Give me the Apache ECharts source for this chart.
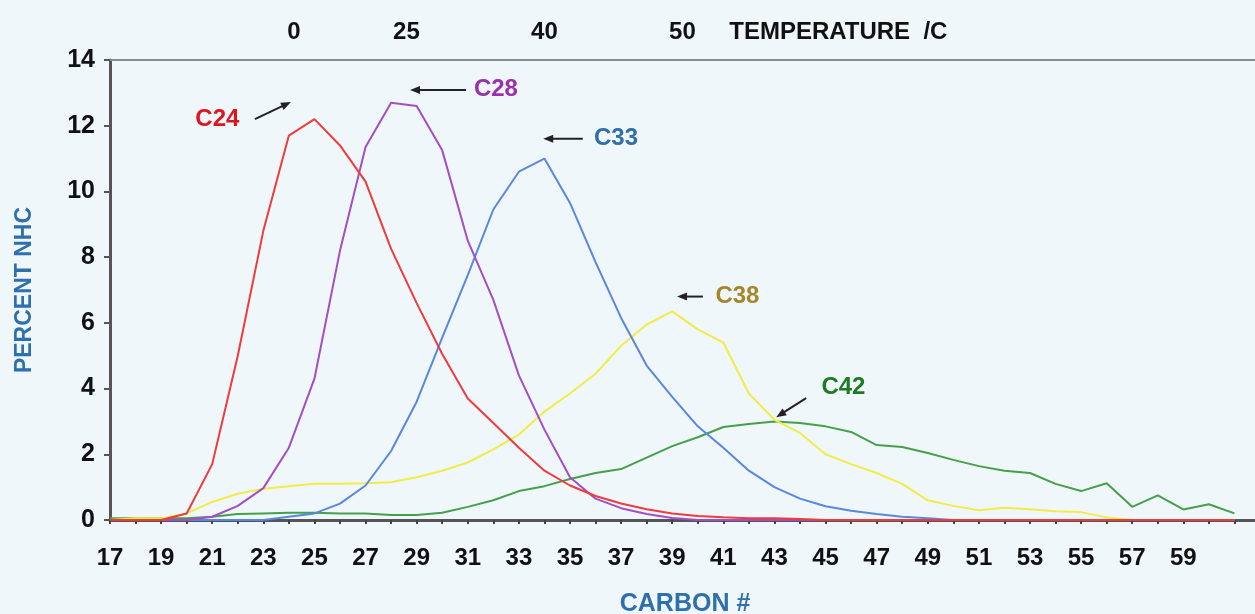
<!DOCTYPE html>
<html><head><meta charset="utf-8">
<script src="https://cdn.jsdelivr.net/npm/echarts@6/dist/echarts.min.js"></script>
<style>html,body{margin:0;padding:0;background:#f0f7fb}#c{width:1255px;height:614px}</style>
</head><body><div id="c"></div>
<script>
// ---- data ----
const carbon = ['17','18','19','20','21','22','23','24','25','26','27','28','29','30','31','32','33','34','35','36','37','38','39','40','41','42','43','44','45','46','47','48','49','50','51','52','53','54','55','56','57','58','59','60','61','62'];
const xTickLabels = ['17','19','21','23','25','27','29','31','33','35','37','39','41','43','45','47','49','51','53','55','57','59'];
const yTicks = [0, 2, 4, 6, 8, 10, 12, 14];
const tempLabels = ['0', '25', '40', '50', 'TEMPERATURE  /C'];
const tempCarbon = [24.2, 28.6, 34.0, 39.4, 45.5];

const c24 = [0,0,0,0.2,1.7,5.0,8.8,11.7,12.2,11.4,10.3,8.25,6.6,5.05,3.7,2.95,2.2,1.5,1.05,0.73,0.5,0.33,0.2,0.12,0.08,0.05,0.05,0.03,0,0,0,0,0,0,0,0,0,0,0,0,0,0,0,0,0,null];
const c28 = [0,0,0,0,0.1,0.43,0.97,2.2,4.3,8.2,11.35,12.7,12.6,11.25,8.5,6.7,4.4,2.75,1.3,0.65,0.36,0.18,0.06,0,0,0,0,0,0,0,0,0,0,0,0,0,0,0,0,0,0,0,0,0,0,null];
const c33 = [0,0,0,0,0,0,0,0.1,0.2,0.5,1.05,2.1,3.6,5.55,7.45,9.45,10.6,11.0,9.65,7.85,6.15,4.7,3.75,2.85,2.2,1.5,1.0,0.65,0.42,0.28,0.18,0.1,0.05,0,0,0,0,0,0,0,0,0,0,0,0,null];
const c38 = [0,0.05,0.05,0.2,0.55,0.8,0.95,1.03,1.1,1.1,1.12,1.15,1.3,1.5,1.75,2.15,2.6,3.3,3.85,4.45,5.3,5.95,6.35,5.8,5.4,3.85,3.05,2.65,2.0,1.7,1.43,1.1,0.6,0.43,0.3,0.37,0.33,0.27,0.24,0.08,0,0,0,0,0,null];
const c42 = [0.05,0.05,0.05,0.05,0.1,0.18,0.2,0.22,0.22,0.2,0.2,0.15,0.15,0.22,0.4,0.6,0.88,1.03,1.25,1.43,1.55,1.9,2.25,2.52,2.83,2.92,3.0,2.95,2.85,2.68,2.28,2.22,2.04,1.83,1.64,1.5,1.43,1.1,0.88,1.12,0.4,0.75,0.32,0.48,0.2,null];

const seriesNames = ['C24', 'C28', 'C33', 'C38', 'C42'];
const lineColors = ['#ef3b3b', '#a24ec6', '#5b86e0', '#f0ec48', '#45a04a'];
const labelColors = ['#e0141e', '#9b2fae', '#2f6ea8', '#a5872a', '#1f7a24'];
// annotation anchors in (carbon number, percent) space
const annText = [[21.2, 12.2], [32.1, 13.1], [36.8, 11.6], [41.55, 6.8], [45.7, 4.05]];
const annFrom = [[22.67, 12.2], [30.93, 13.09], [35.5, 11.6], [40.2, 6.8], [44.24, 3.71]];
const annTo = [[24.08, 12.72], [28.74, 13.09], [33.95, 11.6], [39.19, 6.8], [43.07, 3.13]];

const FONT = "'Liberation Sans', Arial, sans-serif";
const chart = echarts.init(document.getElementById('c'));
const values = [c24, c28, c33, c38, c42];

chart.setOption({
  backgroundColor: '#f0f7fb',
  animation: false,
  grid: { left: 110, right: -5, top: 60, bottom: 94, containLabel: false, outerBoundsMode: 'none' },
  xAxis: [{
    type: 'category', data: carbon, boundaryGap: false, position: 'bottom',
    name: 'CARBON #', nameLocation: 'middle', nameGap: 72,
    nameTextStyle: { color: '#2e6fad', fontWeight: 'bold', fontSize: 25, fontFamily: FONT },
    axisLine: { lineStyle: { color: '#555', width: 3 } },
    axisTick: { interval: 0, length: 4, lineStyle: { color: '#444', width: 2 } },
    axisLabel: {
      interval: (i, v) => xTickLabels.includes(v),
      margin: 26, color: '#111', fontWeight: 'bold', fontSize: 24, fontFamily: FONT
    },
    splitLine: { show: false }
  }, {
    type: 'value', position: 'top', min: 17, max: 62,
    axisLine: { show: true, onZero: false, lineStyle: { color: '#8c8c8c', width: 2 } },
    axisTick: { show: false },
    splitLine: { show: false },
    axisLabel: {
      customValues: tempCarbon,
      formatter: (v) => { const i = tempCarbon.indexOf(v); return i >= 0 ? tempLabels[i] : ''; },
      margin: 16, color: '#111', fontWeight: 'bold', fontSize: 24, fontFamily: FONT
    }
  }],
  yAxis: {
    type: 'value', min: 0, max: 14, interval: 2,
    name: 'PERCENT NHC', nameLocation: 'middle', nameGap: 74, nameRotate: 90,
    nameTextStyle: { color: '#2e6fad', fontWeight: 'bold', fontSize: 23, fontFamily: FONT },
    axisLine: { show: true, lineStyle: { color: '#555', width: 3 } },
    axisTick: { show: true, length: 6, lineStyle: { color: '#555', width: 2 } },
    axisLabel: { margin: 15, color: '#111', fontWeight: 'bold', fontSize: 25, fontFamily: FONT,
      formatter: (v) => yTicks.includes(v) ? String(v) : '' },
    splitLine: { show: false }
  },
  series: values.map((d, i) => ({
    name: seriesNames[i], type: 'line', data: d, xAxisIndex: 0, yAxisIndex: 0,
    symbol: 'none', lineStyle: { color: lineColors[i], width: 2 },
    z: 10 - i
  }))
});

// annotations (text + arrow), converted from data space through the axes
const px = (p) => chart.convertToPixel({ xAxisIndex: 1, yAxisIndex: 0 }, p);
const graphics = [];
seriesNames.forEach((name, i) => {
  const t = px(annText[i]);
  graphics.push({ type: 'text', x: t[0], y: t[1], z: 100,
    style: { text: name, fill: labelColors[i], font: "bold 24px " + FONT, align: 'center', verticalAlign: 'middle' } });
  const a = px(annFrom[i]), b = px(annTo[i]);
  const dx = b[0] - a[0], dy = b[1] - a[1], L = Math.hypot(dx, dy);
  const ux = dx / L, uy = dy / L, nx = -uy, ny = ux;
  graphics.push({ type: 'line', z: 100,
    shape: { x1: a[0], y1: a[1], x2: b[0] - ux * 6, y2: b[1] - uy * 6 },
    style: { stroke: '#222', lineWidth: 2 } });
  graphics.push({ type: 'polygon', z: 100,
    shape: { points: [[b[0], b[1]], [b[0] - ux * 10 + nx * 4, b[1] - uy * 10 + ny * 4], [b[0] - ux * 10 - nx * 4, b[1] - uy * 10 - ny * 4]] },
    style: { fill: '#222' } });
});
chart.setOption({ graphic: graphics });
</script></body></html>
